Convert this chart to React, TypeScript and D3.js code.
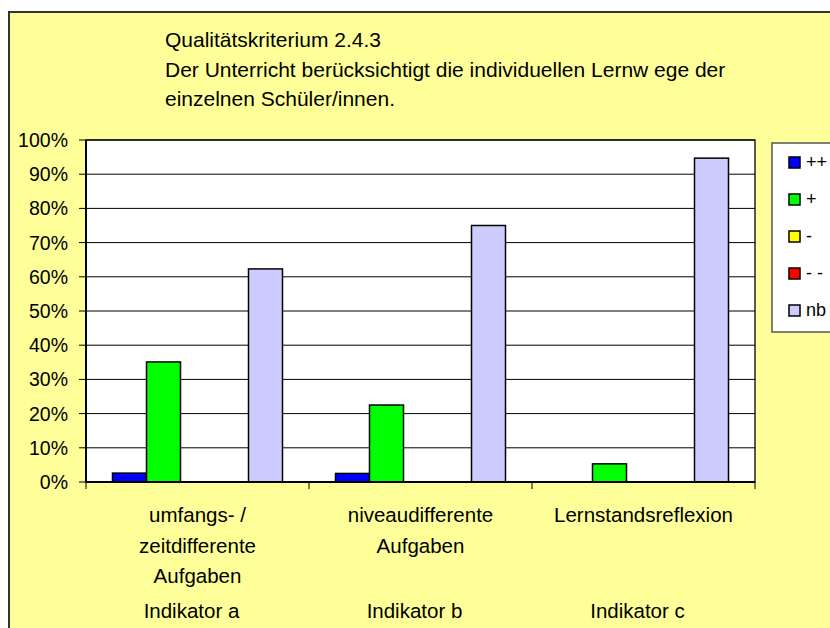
import React from 'react';
import * as d3 from 'd3';

const categories = ['a', 'b', 'c'];
const categoryLabels = [
  ['umfangs- /', 'zeitdifferente', 'Aufgaben'],
  ['niveaudifferente', 'Aufgaben'],
  ['Lernstandsreflexion'],
];
const indicatorLabels = ['Indikator a', 'Indikator b', 'Indikator c'];
const seriesNames = ['++', '+', '-', '- -', 'nb'];
const seriesColors = ['#0000ff', '#00ff00', '#ffff00', '#ff0000', '#ccccff'];
const valuesPlusPlus = [2.6, 2.5, 0];
const valuesPlus = [35.1, 22.5, 5.3];
const valuesMinus = [0, 0, 0];
const valuesMinusMinus = [0, 0, 0];
const valuesNb = [62.3, 75, 94.7];
const yTicks = [0, 10, 20, 30, 40, 50, 60, 70, 80, 90, 100];
const titleLines = [
  'Qualitätskriterium 2.4.3',
  'Der Unterricht berücksichtigt die individuellen Lernw ege der',
  'einzelnen Schüler/innen.',
];

const series = [valuesPlusPlus, valuesPlus, valuesMinus, valuesMinusMinus, valuesNb];

export default function App() {
  const width = 830;
  const height = 628;
  const plot = { left: 86, right: 755, top: 140, bottom: 482 };
  const font = '"Liberation Sans", Arial, sans-serif';

  const x0 = d3.scaleBand().domain(categories).range([plot.left, plot.right]);
  const gap = 26.5;
  const x1 = d3
    .scaleBand()
    .domain(seriesNames)
    .range([gap, x0.bandwidth() - gap]);
  const y = d3.scaleLinear().domain([0, 100]).range([plot.bottom, plot.top]);

  const xTicks = [...categories.map((c) => x0(c)), plot.right];

  return (
    <svg
      width={width}
      height={height}
      style={{ position: 'absolute', left: 0, top: 0, fontFamily: font }}
    >
      <rect x={0} y={0} width={width} height={height} fill="#fff" />
      <rect x={9} y={12} width={900} height={700} fill="#ffff99" stroke="#333" strokeWidth={2} />

      {titleLines.map((t, i) => (
        <text key={i} x={165} y={47 + i * 29.5} fontSize={21} fill="#000">
          {t}
        </text>
      ))}

      <rect
        x={plot.left}
        y={plot.top}
        width={plot.right - plot.left}
        height={plot.bottom - plot.top}
        fill="#fff"
        stroke="#222"
        strokeWidth={1.5}
      />

      {yTicks.map((t) => (
        <g key={t}>
          <line x1={plot.left} x2={plot.right} y1={y(t)} y2={y(t)} stroke="#000" strokeWidth={1} />
          <line x1={plot.left - 7} x2={plot.left} y1={y(t)} y2={y(t)} stroke="#000" strokeWidth={1} />
          <text x={68} y={y(t) + 7} textAnchor="end" fontSize={19.5} fill="#000">
            {t}%
          </text>
        </g>
      ))}

      {categories.map((c, ci) =>
        series.map((vals, si) => {
          const v = vals[ci];
          if (v <= 0) return null;
          return (
            <rect
              key={c + si}
              x={(x0(c) as number) + (x1(seriesNames[si]) as number)}
              y={y(v)}
              width={x1.bandwidth()}
              height={y(0) - y(v)}
              fill={seriesColors[si]}
              stroke="#000"
              strokeWidth={1.5}
            />
          );
        })
      )}

      <line x1={plot.left} x2={plot.left} y1={plot.top} y2={plot.bottom} stroke="#000" strokeWidth={2} />
      <line x1={plot.left} x2={plot.right} y1={plot.bottom} y2={plot.bottom} stroke="#000" strokeWidth={2} />
      {xTicks.map((t, i) => (
        <line key={i} x1={t} x2={t} y1={plot.bottom} y2={plot.bottom + 7} stroke="#000" strokeWidth={1} />
      ))}

      {categories.map((c, ci) => {
        const cx = (x0(c) as number) + x0.bandwidth() / 2;
        return (
          <g key={c}>
            {categoryLabels[ci].map((l, li) => (
              <text key={li} x={cx} y={522 + li * 30.5} textAnchor="middle" fontSize={20.5} fill="#000">
                {l}
              </text>
            ))}
            <text x={cx - 6} y={618} textAnchor="middle" fontSize={20.5} fill="#000">
              {indicatorLabels[ci]}
            </text>
          </g>
        );
      })}

      <rect x={772} y={143} width={80} height={189} fill="#fff" stroke="#555" strokeWidth={1.5} />
      {seriesNames.map((s, i) => (
        <g key={s}>
          <rect x={789} y={157 + i * 37} width={11} height={11} fill={seriesColors[i]} stroke="#000" strokeWidth={1.5} />
          <text x={806} y={168 + i * 37} fontSize={18} fill="#000">
            {s}
          </text>
        </g>
      ))}
    </svg>
  );
}
